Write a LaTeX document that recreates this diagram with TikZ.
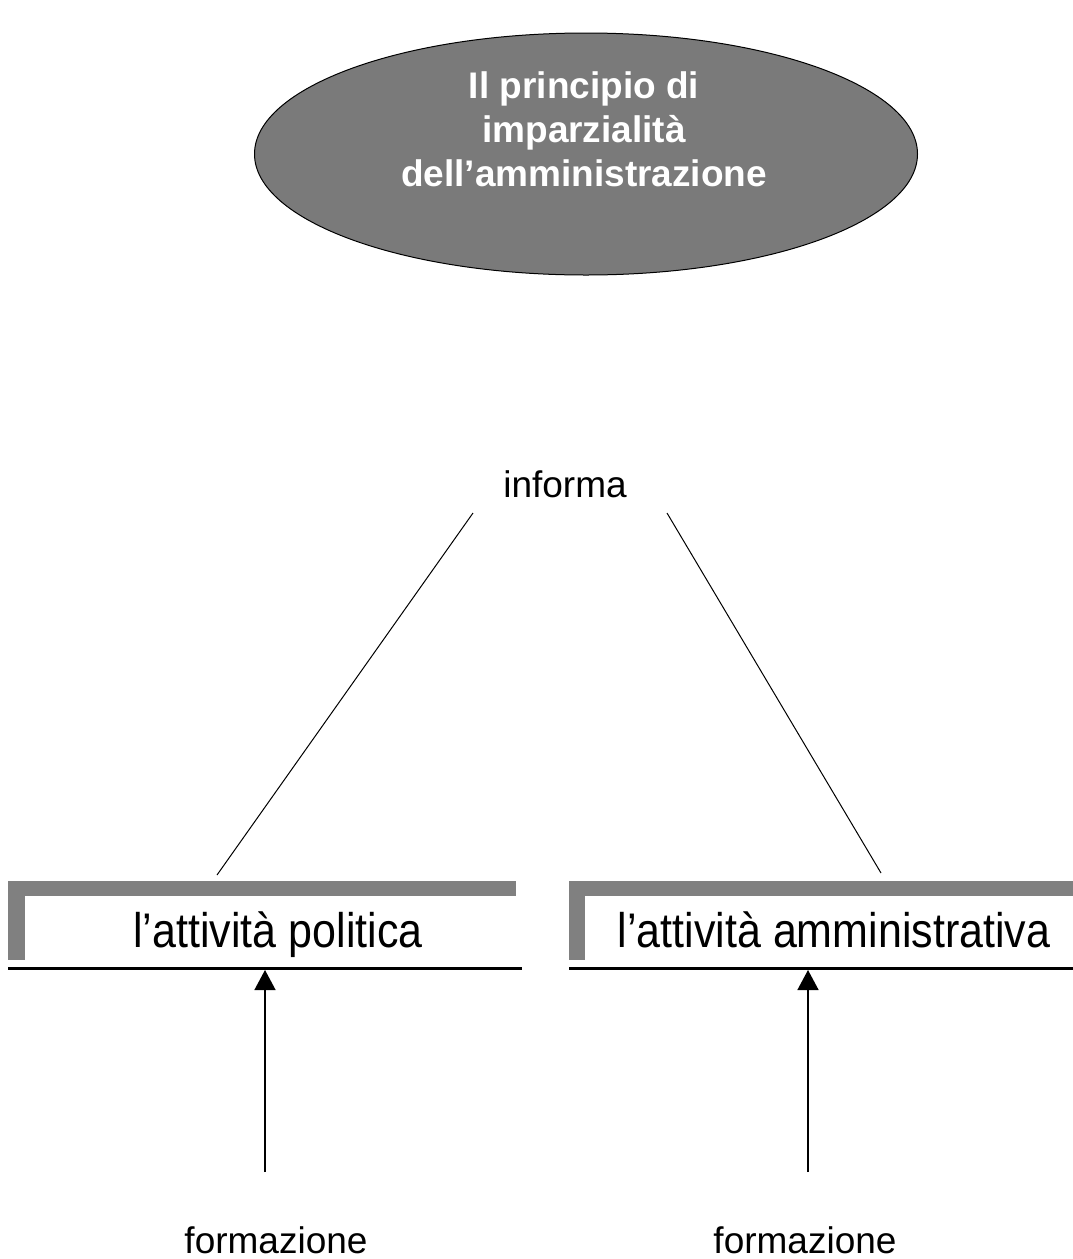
\documentclass[tikz,border=0pt]{standalone}
\usepackage{fontspec}
\setmainfont{Liberation Sans}
\usetikzlibrary{arrows.meta,shapes.geometric}
\definecolor{bargray}{RGB}{128,128,128}
\definecolor{ovalgray}{RGB}{122,122,122}

\begin{document}
\begin{tikzpicture}[x=1pt,y=-1pt,
  every node/.style={inner sep=0pt, outer sep=0pt},
  oval/.style={ellipse, draw=black, line width=1pt, fill=ovalgray,
    minimum width=663pt, minimum height=242pt},
  ovaltext/.style={text=white, align=center,
    font=\fontsize{37}{44}\selectfont\bfseries},
  label/.style={font=\fontsize{37}{44}\selectfont},
  boxtext/.style={font=\fontsize{43}{50}\selectfont, yscale=1.13},
  bar/.style={fill=bargray, draw=none},
  baseline rule/.style={line width=2.5pt},
  link/.style={line width=1pt},
  up/.style={line width=1.5pt, -{Triangle[width=21pt,length=20pt]}}
]
\useasboundingbox (0,0) rectangle (1073,1259);

% title oval
\node[oval] (title) at (586,154) {};
\node[ovaltext] (titletext) at (584,129)
  {Il principio di\\imparzialità\\dell’amministrazione};

% connecting word
\node[label, anchor=base] (informa) at (565,497) {informa};

% left box: grey corner bracket and bottom rule
\fill[bar] (8,881) rectangle (516,896);
\fill[bar] (8,881) rectangle (25,960);
\draw[baseline rule] (8,968.5) -- (522,968.5);
\node[boxtext, anchor=base] (pol) at (278,947) {l’attività politica};
\coordinate (polbot) at (265,970);

% right box
\fill[bar] (569,881) rectangle (1073,896);
\fill[bar] (569,881) rectangle (585,960);
\draw[baseline rule] (569,968.5) -- (1073,968.5);
\node[boxtext, anchor=base] (amm) at (834,947) {l’attività amministrativa};
\coordinate (ammbot) at (808,970);

% lines from "informa" down to the boxes
\coordinate (infL) at (473,513);
\coordinate (infR) at (667,513);
\coordinate (polT) at (217,875);
\coordinate (ammT) at (881,873);
\draw[link] (infL) -- (polT);
\draw[link] (infR) -- (ammT);

% formazione labels and arrows
\node[label, anchor=base] (formL) at (276,1253) {formazione};
\node[label, anchor=base] (formR) at (805,1253) {formazione};
\coordinate (formLtop) at (265,1172);
\coordinate (formRtop) at (808,1172);
\draw[up] (formLtop) -- (polbot);
\draw[up] (formRtop) -- (ammbot);
\end{tikzpicture}
\end{document}
